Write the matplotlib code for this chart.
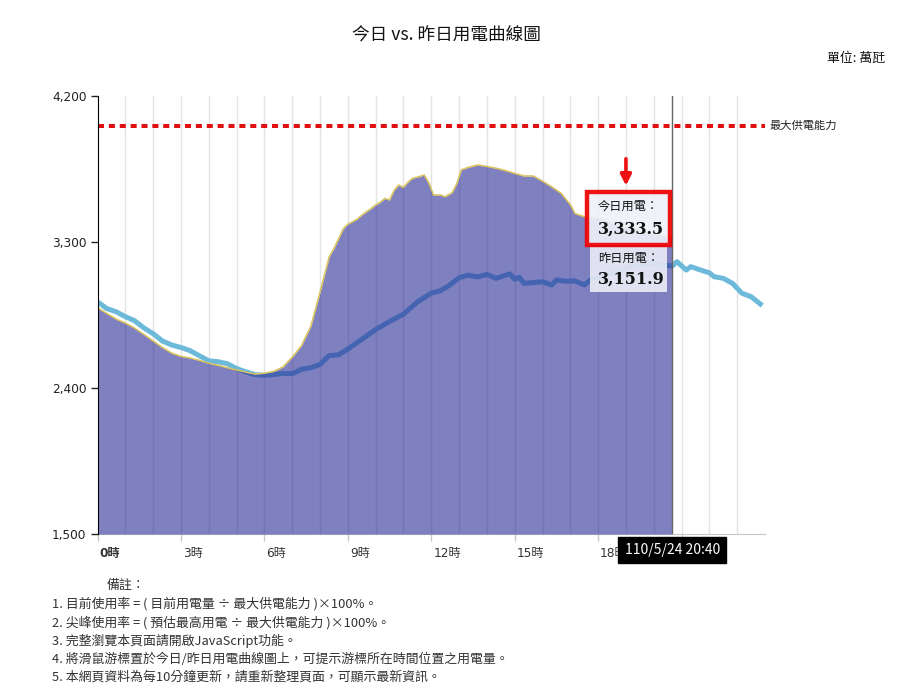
import matplotlib
matplotlib.use("Agg")
import matplotlib.pyplot as plt
import matplotlib.transforms as mtransforms
from matplotlib.patches import Rectangle

plt.rcParams['font.family'] = ['Noto Sans CJK TC', 'DejaVu Sans']
NUM_FONT = ['DejaVu Sans', 'Noto Sans CJK TC']

# yesterday's load (hours, 萬瓩)
yday_hours = [0.0, 0.33, 0.67, 1.0, 1.33, 1.67, 2.0, 2.33, 2.67, 3.0, 3.33, 3.67, 4.0, 4.33,
              4.67, 5.0, 5.33, 5.67, 6.0, 6.33, 6.67, 7.0, 7.33, 7.67, 8.0, 8.33, 8.67, 9.0,
              9.5, 10.0, 10.5, 11.0, 11.5, 12.0, 12.33, 12.67, 13.0, 13.33, 13.67, 14.0,
              14.33, 14.67, 14.83, 15.0, 15.17, 15.33, 15.67, 16.0, 16.33, 16.5, 16.83,
              17.17, 17.5, 17.83, 18.17, 18.5, 18.83, 19.17, 19.5, 19.83, 20.17, 20.5,
              20.67, 20.83, 21.17, 21.33, 21.67, 22.0, 22.17, 22.5, 22.83, 23.17, 23.5, 23.83]
yday_load = [2932, 2890, 2870, 2840, 2815, 2770, 2735, 2690, 2665, 2650, 2630, 2598, 2568, 2562,
             2550, 2520, 2500, 2482, 2478, 2482, 2490, 2488, 2515, 2525, 2545, 2600, 2604, 2640,
             2700, 2760, 2810, 2855, 2930, 2985, 3000, 3035, 3080, 3095, 3085, 3100,
             3076, 3095, 3103, 3070, 3082, 3045, 3050, 3055, 3035, 3066, 3058,
             3060, 3035, 3080, 3090, 3110, 3130, 3150, 3165, 3170, 3160, 3155,
             3151.9, 3179, 3127, 3148, 3128, 3110, 3086, 3076, 3045, 2984, 2963, 2918]

# today's load up to 20:40
today_hours = [0.0, 0.33, 0.67, 1.0, 1.33, 1.67, 2.0, 2.33, 2.67, 3.0, 3.33, 3.67, 4.0, 4.33,
               4.67, 5.0, 5.33, 5.67, 6.0, 6.33, 6.67, 7.0, 7.33, 7.67, 8.0, 8.33, 8.5, 8.67,
               8.83, 9.0, 9.17, 9.33, 9.5, 9.67, 9.83, 10.0, 10.17, 10.33, 10.5, 10.67, 10.83,
               11.0, 11.17, 11.33, 11.5, 11.75, 11.92, 12.08, 12.33, 12.5, 12.75, 12.92, 13.08,
               13.33, 13.67, 14.0, 14.33, 14.67, 15.0, 15.33, 15.67, 16.0, 16.33, 16.67, 17.0,
               17.17, 17.5, 17.83, 18.17, 18.5, 18.83, 19.17, 19.5, 19.83, 20.17, 20.5, 20.67]
today_load = [2895, 2860, 2825, 2800, 2770, 2730, 2690, 2650, 2615, 2595, 2585, 2570, 2553, 2540,
              2525, 2511, 2498, 2486, 2491, 2502, 2530, 2590, 2660, 2780, 2990, 3209, 3260, 3320,
              3380, 3410, 3425, 3440, 3465, 3487, 3505, 3528, 3545, 3569, 3559, 3620, 3651,
              3637, 3670, 3693, 3700, 3713, 3662, 3590, 3590, 3579, 3604, 3660, 3745,
              3760, 3775, 3766, 3755, 3740, 3723, 3707, 3707, 3675, 3640, 3600, 3530,
              3475, 3456, 3455, 3440, 3420, 3400, 3385, 3370, 3355, 3345, 3335, 3333.5]

max_supply = 4015
now_hour = 20 + 40 / 60
now_label = "110/5/24 20:40"
today_now = "3,333.5"
yday_now = "3,151.9"

y_ticks = [1500, 2400, 3300, 4200]
x_major = list(range(0, 24, 3))
x_labels = ["0時", "3時", "6時", "9時", "12時", "15時", "18時", ""]  # 21時 hidden under the time box

notes = [
    "1. 目前使用率 = ( 目前用電量 ÷ 最大供電能力 )×100%。",
    "2. 尖峰使用率 = ( 預估最高用電 ÷ 最大供電能力 )×100%。",
    "3. 完整瀏覽本頁面請開啟JavaScript功能。",
    "4. 將滑鼠游標置於今日/昨日用電曲線圖上，可提示游標所在時間位置之用電量。",
    "5. 本網頁資料為每10分鐘更新，請重新整理頁面，可顯示最新資訊。",
]

W, H = 908, 695
fig = plt.figure(figsize=(W / 100, H / 100), dpi=100)
ax = fig.add_axes([97.5 / W, 1 - 534 / H, 667.5 / W, 438 / H])

ax.set_xlim(0, 24)
ax.set_ylim(1500, 4200)

# hourly grid
for h in range(1, 24):
    ax.axvline(h, color='#e3e3e3', lw=1, zorder=0)

ax.plot(yday_hours, yday_load, color='#6cb9da', lw=3.6, zorder=2, solid_joinstyle='round')
ax.fill_between(today_hours, today_load, 1500, color='#2a2b96', alpha=0.6, lw=0, zorder=3)
ax.plot(today_hours, today_load, color='#d9c25a', lw=1.1, zorder=4)

ax.axhline(max_supply, color='#e01010', lw=2.9, ls=(0, (1.5, 1.2)), zorder=5)
ax.text(24.15, max_supply, "最大供電能力", fontsize=8.1, va='center', ha='left', color='#222')

ax.axvline(now_hour, color='#666666', lw=1, zorder=6)

# axes styling
for s in ['top', 'right']:
    ax.spines[s].set_visible(False)
ax.spines['left'].set_color('black')
ax.spines['left'].set_zorder(6)
ax.spines['bottom'].set_color('#c8c8c8')
ax.set_yticks(y_ticks)
ax.set_yticklabels([f"{v:,}" for v in y_ticks], family=NUM_FONT)
ax.tick_params(axis='y', length=5, width=1, labelsize=8.7, colors='#222', pad=3)
ax.set_xticks(x_major)
ax.set_xticklabels(x_labels, ha='left', family=NUM_FONT)
ax.tick_params(axis='x', length=5, width=1, color='#c8c8c8', labelsize=8.7, labelcolor='#333', pad=4)
ax.get_xticklabels()[0].set_fontweight('bold')
off = mtransforms.ScaledTranslation(2 / 100, 0, fig.dpi_scale_trans)
for lab in ax.get_xticklabels():
    lab.set_transform(lab.get_transform() + off)

# tooltip boxes
ax.add_patch(Rectangle((17.72, 2994), 2.75, 277, facecolor='#eef1f8', edgecolor='none',
                       alpha=0.88, zorder=7))
ax.add_patch(Rectangle((17.6, 3282), 3.0, 328, facecolor='#eef1f8', edgecolor='#ee0000',
                       lw=3.2, alpha=0.92, zorder=8))
ax.text(18.0, 3520, "今日用電：", fontsize=8.8, va='center', ha='left', zorder=9, color='#111')
ax.text(18.0, 3380, today_now, fontsize=11.5, fontweight='bold', family='DejaVu Serif',
        va='center', ha='left', zorder=9, color='#111')
ax.text(18.0, 3200, "昨日用電：", fontsize=8.8, va='center', ha='left', zorder=9, color='#111')
ax.text(18.0, 3072, yday_now, fontsize=11.5, fontweight='bold', family='DejaVu Serif',
        va='center', ha='left', zorder=9, color='#111')
ax.annotate('', xy=(19.0, 3630), xytext=(19.0, 3830),
            arrowprops=dict(arrowstyle='-|>', color='#ee1111', lw=2.6, mutation_scale=16),
            annotation_clip=False, zorder=9)

# time label under cursor
trans = mtransforms.blended_transform_factory(ax.transData, ax.transAxes)
ax.text(now_hour, -0.037, now_label, transform=trans, ha='center', va='center', fontsize=10,
        color='white', zorder=10, clip_on=False,
        bbox=dict(boxstyle='square,pad=0.45', facecolor='black', edgecolor='black'))

fig.text(446 / W, 1 - 36 / H, "今日 vs. 昨日用電曲線圖", ha='center', va='center', fontsize=12.7,
         color='#111')
fig.text(885 / W, 1 - 58 / H, "單位: 萬瓩", ha='right', va='center', fontsize=9.3, color='#111')

fig.text(107 / W, 1 - 585 / H, "備註：", ha='left', va='center', fontsize=9.3, color='#333')
for i, line in enumerate(notes):
    fig.text(52 / W, 1 - (604 + i * 18.3) / H, line, ha='left', va='center', fontsize=9.3,
             color='#333')

fig.savefig("out.png", dpi=100)
